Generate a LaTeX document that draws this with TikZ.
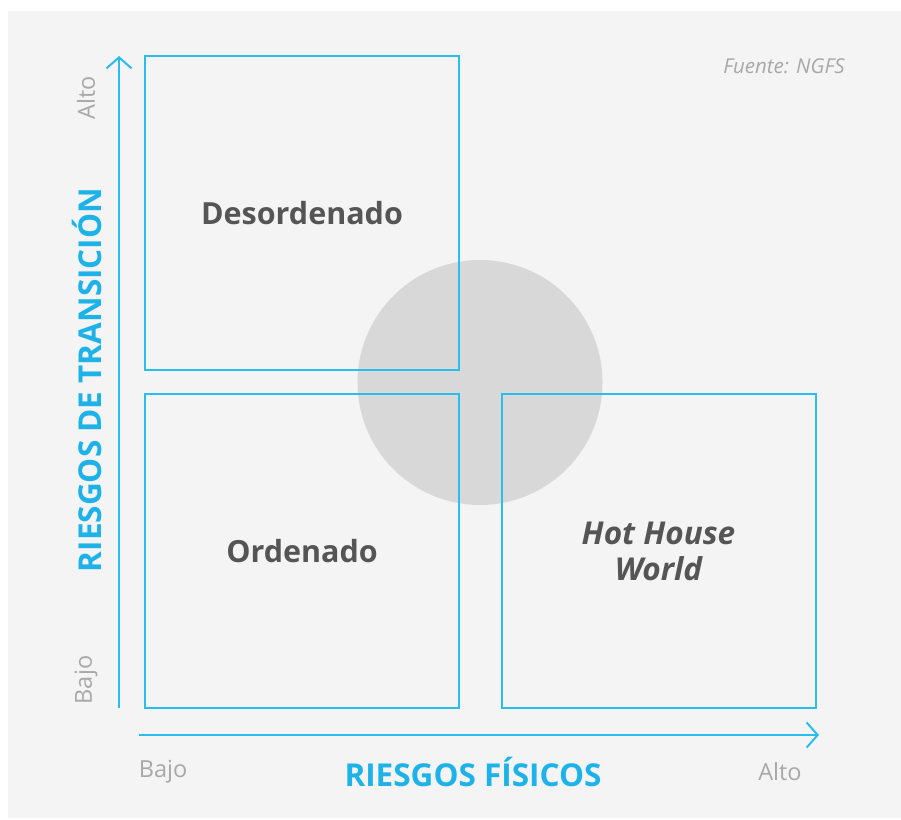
\documentclass[tikz,border=0pt]{standalone}
\usepackage{fontspec}
\setmainfont{Open Sans}
\definecolor{axisblue}{HTML}{2BBDEE}
\definecolor{labelblue}{HTML}{1EB3E8}
\definecolor{panelbg}{HTML}{F4F4F4}
\definecolor{circlegray}{HTML}{D8D8D8}
\definecolor{darktext}{HTML}{555555}
\definecolor{softtext}{HTML}{A8A8A8}
\usetikzlibrary{arrows.meta, positioning}

\tikzset{
  quadbox/.style={draw=axisblue, line width=2pt, minimum width=314pt,
    minimum height=314pt, inner sep=0pt, align=center, text=darktext,
    font=\fontsize{30.5}{38}\selectfont\bfseries},
  axisarrow/.style={draw=axisblue, line width=2pt,
    -{Straight Barb[length=11pt, width=25pt, line width=2pt]}},
  axistitle/.style={text=labelblue, font=\fontsize{31.5}{36}\selectfont\bfseries},
  levellabel/.style={text=softtext, font=\fontsize{23.5}{26}\selectfont}
}

\begin{document}
\begin{tikzpicture}[x=1pt, y=-1pt]
  \useasboundingbox (0,0) rectangle (901,819);
  \fill[white] (0,0) rectangle (901,819);
  \fill[panelbg] (8,11) rectangle (901,818);
  \fill[circlegray] (480,382.5) circle (122.5);

  % quadrants
  \node[quadbox] (desord) at (302,213) {Desordenado};
  \node[quadbox] (orden) at (302,551) {Ordenado};
  \node[quadbox, font=\fontsize{31.5}{38}\selectfont\bfseries] (hothouse) at (658.5,551)
    {\itshape Hot House\\[-2pt]\itshape World};

  % axes
  \coordinate (yorig) at (119,708);
  \coordinate (ytop) at (119,56);
  \coordinate (xorig) at (139,735);
  \coordinate (xend) at (819,735);
  \draw[axisarrow] (yorig) -- (ytop);
  \draw[axisarrow] (xorig) -- (xend);

  \node[axistitle, rotate=90] (ytitle) at (87,380) {RIESGOS DE TRANSICIÓN};
  \node[axistitle] (xtitle) at (473,772) {RIESGOS FÍSICOS};
  \node[levellabel, rotate=90] (yalto) at (86,98) {Alto};
  \node[levellabel, rotate=90] (ybajo) at (86,680) {Bajo};
  \node[levellabel] (xbajo) at (163,772) {Bajo};
  \node[levellabel] (xalto) at (780,772) {Alto};
  \node[text=softtext, font=\fontsize{20.5}{24}\selectfont\itshape] (fuente) at (784,66) {Fuente: NGFS};
\end{tikzpicture}
\end{document}
